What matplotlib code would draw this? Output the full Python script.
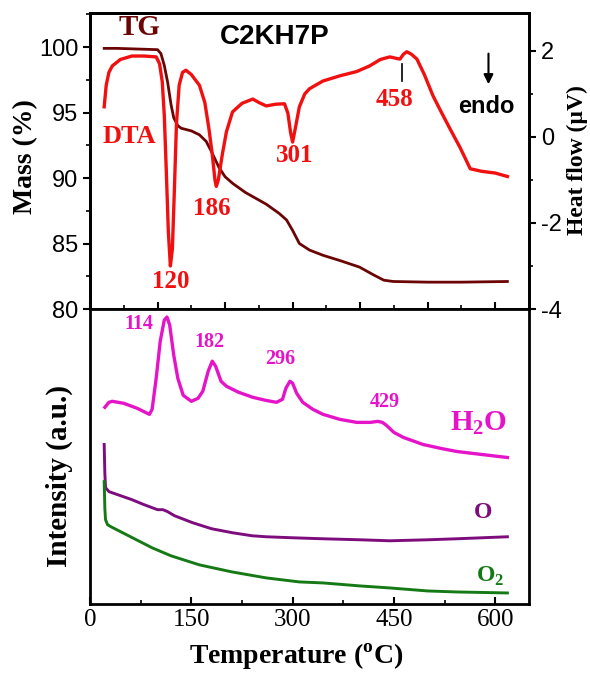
import matplotlib
matplotlib.use("Agg")
import matplotlib.pyplot as plt
from matplotlib.ticker import MultipleLocator, NullLocator

plt.rcParams['font.family'] = ['Liberation Serif', 'DejaVu Serif']
plt.rcParams['mathtext.fontset'] = 'custom'
plt.rcParams['mathtext.rm'] = 'Liberation Serif'
plt.rcParams['mathtext.bf'] = 'Liberation Serif:bold'

# TG (mass %)
tg_t = [21, 40, 70, 100, 105, 110, 115, 120, 124, 130, 135, 150, 162, 172, 180, 191, 200, 211,
        230, 261, 280, 291, 300, 310, 325, 345, 370, 399, 420, 435, 449, 500, 550, 618]
tg_mass = [99.9, 99.9, 99.85, 99.8, 99.5, 98.6, 97.3, 95.6, 94.6, 94.0, 93.8, 93.6, 93.3, 92.8, 92.0,
           90.8, 90.1, 89.6, 88.9, 88.0, 87.3, 86.8, 86.0, 85.0, 84.5, 84.1, 83.7, 83.2, 82.6, 82.2,
           82.1, 82.05, 82.05, 82.1]

# DTA (heat flow, uV)
dta_t = [21, 24, 28, 33, 45, 62, 80, 98, 103, 107, 110, 113, 116, 119, 122, 125, 128, 132, 137, 142,
         150, 162, 170, 176, 181, 185, 187, 190, 196, 202, 211, 225, 241, 250, 261, 275, 288, 293,
         297, 300, 304, 310, 318, 325, 345, 370, 395, 414, 430, 444, 455, 459, 464, 469, 476, 484,
         495, 508, 520, 533, 548, 563, 580, 600, 618]
dta_hf = [0.70, 1.2, 1.5, 1.65, 1.80, 1.88, 1.88, 1.86, 1.7, 1.28, 0.5, -0.8, -2.2, -3.0, -2.6, -1.2,
          0.3, 1.2, 1.5, 1.55, 1.45, 1.2, 0.8, 0.2, -0.4, -1.0, -1.15, -1.0, -0.4, 0.12, 0.58, 0.78,
          0.88, 0.80, 0.72, 0.76, 0.77, 0.55, 0.1, -0.12, 0.2, 0.7, 1.0, 1.12, 1.3, 1.42, 1.52, 1.65,
          1.80, 1.86, 1.82, 1.81, 1.92, 1.98, 1.92, 1.81, 1.45, 0.95, 0.58, 0.19, -0.25, -0.74, -0.80,
          -0.84, -0.92]

# mass spec signals (a.u.)
h2o_t = [22, 28, 33, 50, 70, 88, 92, 98, 104, 110, 114, 118, 124, 130, 138, 150, 160, 167, 175, 181,
         186, 194, 202, 220, 241, 260, 276, 285, 290, 296, 300, 306, 315, 330, 345, 370, 395, 415,
         426, 433, 439, 450, 464, 493, 520, 543, 580, 618]
h2o_i = [196, 201, 202, 200, 195, 189, 194, 225, 262, 283, 286, 278, 248, 225, 208, 202, 205, 212,
         232, 242, 237, 222, 217, 211, 206, 203, 201, 204, 215, 222, 220, 210, 201, 194, 189, 184,
         181, 181, 182, 181, 178, 171, 166, 159, 155, 152, 149, 146]

o_t = [21, 22, 23, 28, 45, 62, 80, 92, 100, 108, 115, 125, 152, 180, 211, 240, 261, 300, 345, 400,
       444, 500, 543, 618]
o_i = [159, 130, 116, 112, 108, 104, 99, 96, 94, 94, 92, 88, 81, 75, 71, 68, 67, 66, 65, 64, 63, 64,
       65, 67]

o2_t = [21, 22, 23, 26, 31, 60, 92, 120, 162, 210, 261, 310, 345, 400, 444, 500, 543, 618]
o2_i = [122, 95, 84, 79, 77, 67, 56, 48, 39, 32, 26, 22, 21, 18, 16, 13, 12, 11]

fig = plt.figure(figsize=(5.9, 6.73), dpi=100)
W, H = 590.0, 673.0
ax1 = fig.add_axes([90 / W, 1 - 309 / H, 439 / W, 296 / H])
ax2 = ax1.twinx()
ax3 = fig.add_axes([90 / W, 1 - 604 / H, 439 / W, 295 / H])

sans = ['Liberation Sans', 'DejaVu Sans']

ax1.plot(tg_t, tg_mass, color='#6b0505', lw=2.0, zorder=3)
ax2.plot(dta_t, dta_hf, color='#f01010', lw=2.4)

ax1.set_xlim(0, 650)
ax1.set_ylim(80, 102.6)
ax2.set_ylim(-4, 2.88)
ax1.yaxis.set_minor_locator(MultipleLocator(2.5))
ax2.yaxis.set_minor_locator(MultipleLocator(1))
ax1.xaxis.set_major_locator(MultipleLocator(100))
ax1.xaxis.set_minor_locator(MultipleLocator(50))
ax1.tick_params(axis='x', which='both', direction='in', labelbottom=False, top=False)
ax1.tick_params(axis='x', which='major', length=5, width=1.5)
ax1.tick_params(axis='x', which='minor', length=3, width=1.2)
for a in (ax1, ax2):
    a.tick_params(axis='y', which='major', length=5, width=1.5)
    a.tick_params(axis='y', which='minor', length=3, width=1.2)
    for s in a.spines.values():
        s.set_linewidth(2)
ax1.set_yticks([80, 85, 90, 95, 100])
ax1.set_yticklabels(['80', '85', '90', '95', '100'], family=sans, fontsize=17)
ax2.set_yticks([-4, -2, 0, 2])
ax2.set_yticklabels(['-4', '-2', '0', '2'], family=sans, fontsize=17)

ax3.plot(h2o_t, h2o_i, color='#e614c8', lw=2.4)
ax3.plot(o_t, o_i, color='#7d0c7d', lw=2.1)
ax3.plot(o2_t, o2_i, color='#157a15', lw=2.1)
ax3.set_xlim(0, 650)
ax3.set_ylim(0, 294)
ax3.yaxis.set_major_locator(NullLocator())
ax3.xaxis.set_major_locator(MultipleLocator(150))
ax3.xaxis.set_minor_locator(MultipleLocator(75))
ax3.tick_params(axis='x', which='both', direction='in', top=False, labelsize=18)
ax3.tick_params(axis='x', which='major', length=5, width=1.5)
ax3.tick_params(axis='x', which='minor', length=3, width=1.2)
for s in ax3.spines.values():
    s.set_linewidth(2)

bold_serif = dict(fontweight='bold', ha='center', va='center')
# top panel labels
ax1.text(73, 101.5, 'TG', color='#6b0505', fontsize=21, **bold_serif)
ax1.text(274, 100.75, 'C2KH7P', color='black', fontsize=20, family=sans, fontweight='bold',
         ha='center', va='center')
ax2.text(58, 0.0, 'DTA', color='#f01010', fontsize=19, **bold_serif)
for lbl, t, v in [('120', 120, -3.37), ('186', 181, -1.67), ('301', 303, -0.44), ('458', 451, 0.88)]:
    ax2.text(t, v, lbl, color='#f01010', fontsize=18, **bold_serif)
ax2.plot([462, 462], [1.30, 1.70], color='black', lw=1.2)
ax2.annotate('', xy=(590, 1.16), xytext=(590, 2.0),
             arrowprops=dict(arrowstyle='-|>', color='black', lw=1.5, mutation_scale=14))
ax2.text(587, 0.70, 'endo', color='black', fontsize=17, family=sans, fontweight='bold',
         ha='center', va='center')

# bottom panel labels
for lbl, t, v in [('114', 73, 279), ('182', 177, 261), ('296', 281, 244), ('429', 437, 201)]:
    ax3.text(t, v, lbl, color='#e614c8', fontsize=14.5, **bold_serif)
ax3.text(575, 180, r'H$_\mathbf{2}$O', color='#e614c8', fontsize=21, **bold_serif)
ax3.text(582, 91, 'O', color='#7d0c7d', fontsize=17, **bold_serif)
ax3.text(592, 28, r'O$_\mathbf{2}$', color='#157a15', fontsize=17, **bold_serif)

# axis titles
fig.text(26 / W, 1 - 157 / H, 'Mass (%)', rotation=90, fontsize=20, **bold_serif)
fig.text(577 / W, 1 - 160 / H, 'Heat flow (\u00b5V)', rotation=90, fontsize=17, **bold_serif)
fig.text(59 / W, 1 - 476 / H, 'Intensity (a.u.)', rotation=90, fontsize=21, **bold_serif)
fig.text(296 / W, 1 - 657 / H, r'Temperature ($^\mathbf{o}$C)', fontsize=20, **bold_serif)

fig.savefig('out.png', dpi=100)
